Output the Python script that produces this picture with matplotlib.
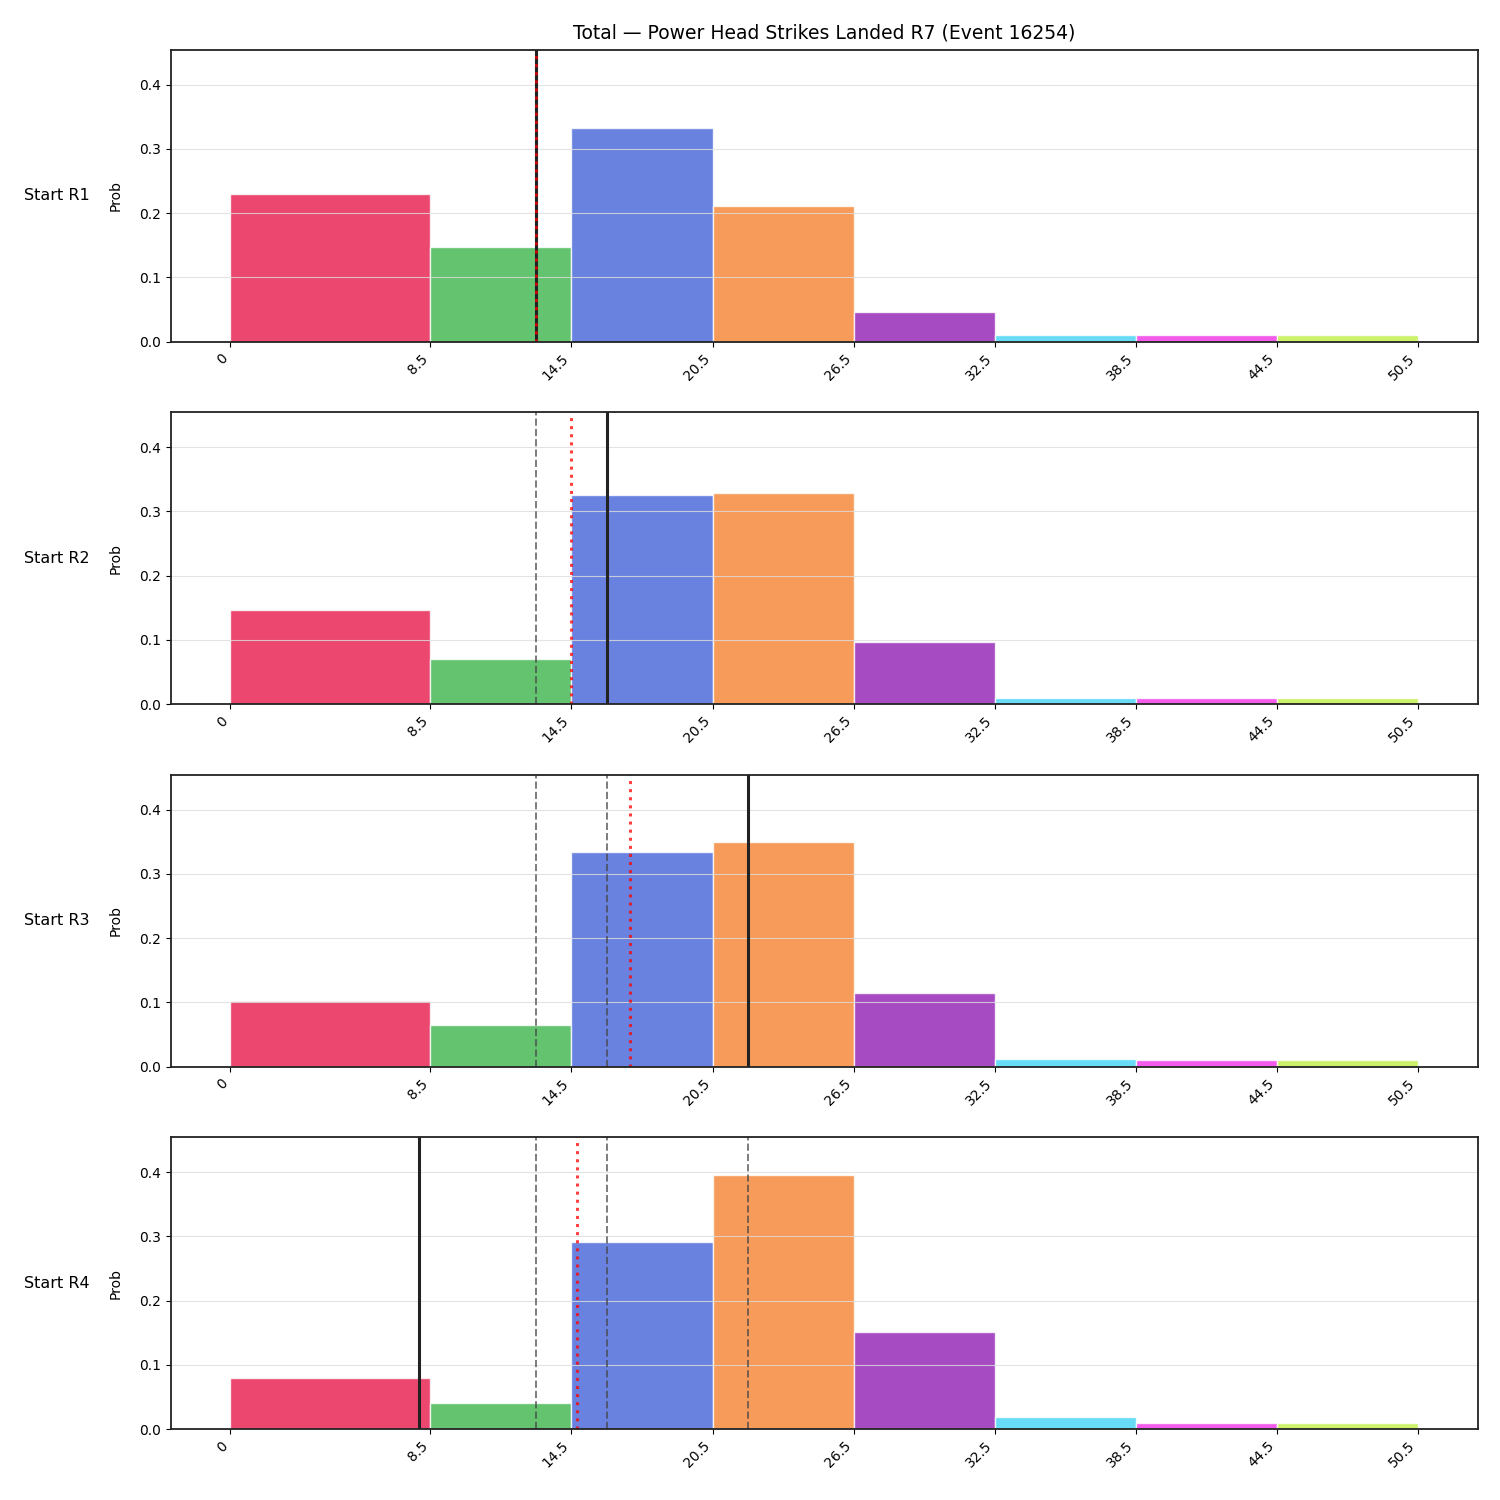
"""Distribution of total power head strikes, one panel per starting round."""
import matplotlib
matplotlib.use("Agg")
import matplotlib.pyplot as plt

edges = [0, 8.5, 14.5, 20.5, 26.5, 32.5, 38.5, 44.5, 50.5]
edge_labels = ["0", "8.5", "14.5", "20.5", "26.5", "32.5", "38.5", "44.5", "50.5"]
bin_colors = ["#e6194b", "#3cb44b", "#4363d8", "#f58231",
              "#911eb4", "#42d4f4", "#f032e6", "#bfef45"]

row_names = ["Start R1", "Start R2", "Start R3", "Start R4"]
probs_r1 = [0.230, 0.148, 0.333, 0.211, 0.046, 0.010, 0.010, 0.010]
probs_r2 = [0.147, 0.070, 0.326, 0.329, 0.097, 0.009, 0.009, 0.009]
probs_r3 = [0.102, 0.065, 0.334, 0.350, 0.115, 0.012, 0.010, 0.010]
probs_r4 = [0.079, 0.041, 0.291, 0.395, 0.151, 0.018, 0.009, 0.009]
probs = [probs_r1, probs_r2, probs_r3, probs_r4]

# current line per row, earlier lines shown dashed, red dotted = mean
current = [13.0, 16.0, 22.0, 8.0]
means = [13.0, 14.5, 17.0, 14.75]

title = "Total — Power Head Strikes Landed R7 (Event 16254)"

fig, axes = plt.subplots(4, 1, figsize=(15, 15), dpi=100)
fig.subplots_adjust(left=0.114, right=0.985, top=0.9667, bottom=0.0473, hspace=0.243)

ymax = max(max(p) for p in probs) * 1.15
lefts = edges[:-1]
widths = [b - a for a, b in zip(edges[:-1], edges[1:])]

for i, ax in enumerate(axes):
    ax.bar(lefts, probs[i], width=widths, align="edge", color=bin_colors,
           alpha=0.8, edgecolor="white", linewidth=1)
    for prev in current[:i]:
        ax.axvline(prev, color="#444444", linestyle="--", linewidth=1.4, alpha=0.7)
    ax.axvline(current[i], color="#222222", linewidth=2.2)
    ax.axvline(means[i], color="red", linestyle=":", linewidth=2.2, alpha=0.75)
    ax.set_ylim(0, ymax)
    ax.set_xticks(edges)
    ax.set_xticklabels(edge_labels, rotation=45, ha="right")
    ax.set_yticks([0.0, 0.1, 0.2, 0.3, 0.4])
    ax.set_ylabel("Prob", fontsize=10, labelpad=12)
    ax.grid(axis="y", color="#dddddd", linewidth=0.8, alpha=0.8)
    ax.tick_params(labelsize=10)
    ax.text(-0.062, 0.5, row_names[i], transform=ax.transAxes,
            ha="right", va="center", fontsize=11.5)
    for side in ax.spines.values():
        side.set_linewidth(1.3)
        side.set_color("#222222")

axes[0].set_title(title, fontsize=13.5, pad=8)

fig.savefig("out.png", dpi=100)
plt.close(fig)
